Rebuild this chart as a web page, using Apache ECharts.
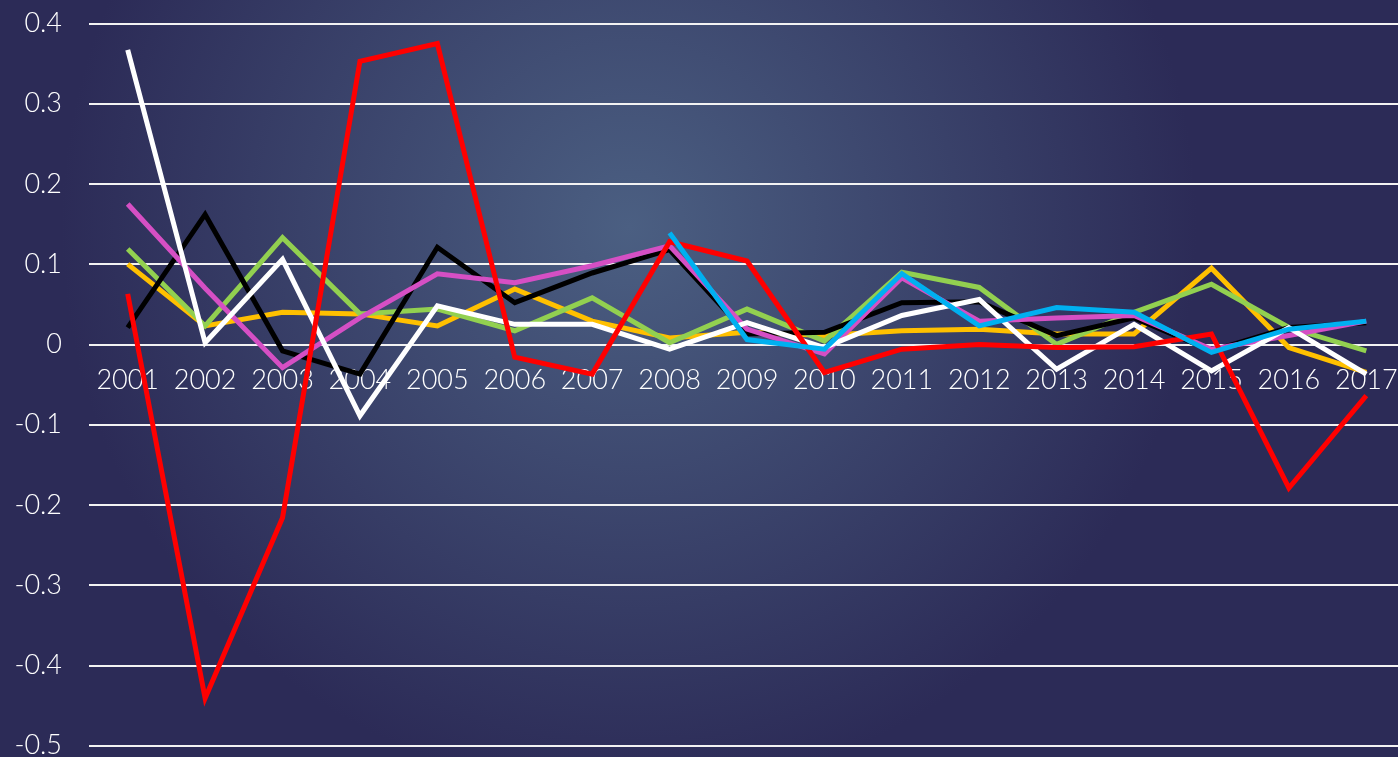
<!DOCTYPE html>
<html>
<head>
<meta charset="utf-8">
<script src="https://cdn.jsdelivr.net/npm/echarts@6/dist/echarts.min.js"></script>
<style>
html, body { margin: 0; padding: 0; }
#main { width: 1398px; height: 757px; }
</style>
</head>
<body>
<div id="main"></div>
<script>
var years = ['2001', '2002', '2003', '2004', '2005', '2006', '2007', '2008', '2009',
	'2010', '2011', '2012', '2013', '2014', '2015', '2016', '2017'];

var gold = [0.100, 0.023, 0.040, 0.038, 0.023, 0.069, 0.029, 0.008, 0.015, 0.011, 0.017, 0.019, 0.013, 0.013, 0.095, -0.004, -0.035];
var green = [0.119, 0.023, 0.133, 0.038, 0.044, 0.017, 0.058, 0.002, 0.044, 0.004, 0.090, 0.071, 0.000, 0.040, 0.075, 0.021, -0.008];
var black = [0.021, 0.162, -0.008, -0.037, 0.121, 0.052, 0.089, 0.118, 0.013, 0.015, 0.052, 0.053, 0.011, 0.033, -0.008, 0.021, 0.027];
var magenta = [0.175, 0.070, -0.029, 0.033, 0.088, 0.077, 0.098, 0.123, 0.019, -0.012, 0.083, 0.029, 0.033, 0.036, -0.006, 0.011, 0.029];
var white = [0.367, 0.002, 0.106, -0.089, 0.048, 0.025, 0.025, -0.006, 0.027, -0.004, 0.036, 0.056, -0.031, 0.025, -0.033, 0.021, -0.037];
var red = [0.063, -0.441, -0.216, 0.353, 0.375, -0.016, -0.037, 0.128, 0.104, -0.035, -0.006, 0.000, -0.004, -0.003, 0.013, -0.179, -0.064];
var blue = [null, null, null, null, null, null, null, 0.139, 0.006, -0.006, 0.088, 0.023, 0.046, 0.040, -0.010, 0.019, 0.029];

var lineSeries = [
	{ data: gold, color: '#ffc000' },
	{ data: green, color: '#92d050' },
	{ data: black, color: '#000000' },
	{ data: magenta, color: '#d54fc4' },
	{ data: white, color: '#ffffff' },
	{ data: red, color: '#ff0000' },
	{ data: blue, color: '#00b0f0' }
];

var myChart = echarts.init(document.getElementById('main'));

var series = [];
for (var i = 0; i < lineSeries.length; i++) {
	series.push({
		type: 'line',
		data: lineSeries[i].data,
		symbol: 'none',
		animation: false,
		lineStyle: {
			color: lineSeries[i].color,
			width: 5,
			join: 'miter'
		}
	});
}

var option = {
	backgroundColor: {
		type: 'radial',
		x: 0.45,
		y: 0.3,
		r: 0.75,
		colorStops: [
			{ offset: 0, color: '#4b5f82' },
			{ offset: 1, color: '#2c2b57' }
		]
	},
	grid: {
		left: 89,
		right: -7,
		top: 23.5,
		bottom: 11.5,
		containLabel: false,
		outerBoundsMode: 'none'
	},
	xAxis: {
		type: 'category',
		data: years,
		boundaryGap: true,
		axisLine: { show: false, onZero: false },
		axisTick: { show: false },
		axisLabel: {
			color: '#ffffff',
			fontFamily: 'Lato',
			fontWeight: 300,
			fontSize: 27,
			// labels sit just under the zero line, not at the bottom
			margin: -379,
			interval: 0,
			hideOverlap: false
		},
		splitLine: { show: false }
	},
	yAxis: {
		type: 'value',
		min: -0.5,
		max: 0.4,
		interval: 0.1,
		axisLine: { show: false },
		axisTick: { show: false },
		axisLabel: {
			color: '#ffffff',
			fontFamily: 'Lato',
			fontWeight: 300,
			fontSize: 27,
			margin: 27,
			formatter: function (v) {
				return String(Math.round(v * 10) / 10);
			}
		},
		splitLine: {
			lineStyle: { color: '#f2f2f2', width: 2 }
		}
	},
	series: series
};

myChart.setOption(option);
</script>
</body>
</html>
